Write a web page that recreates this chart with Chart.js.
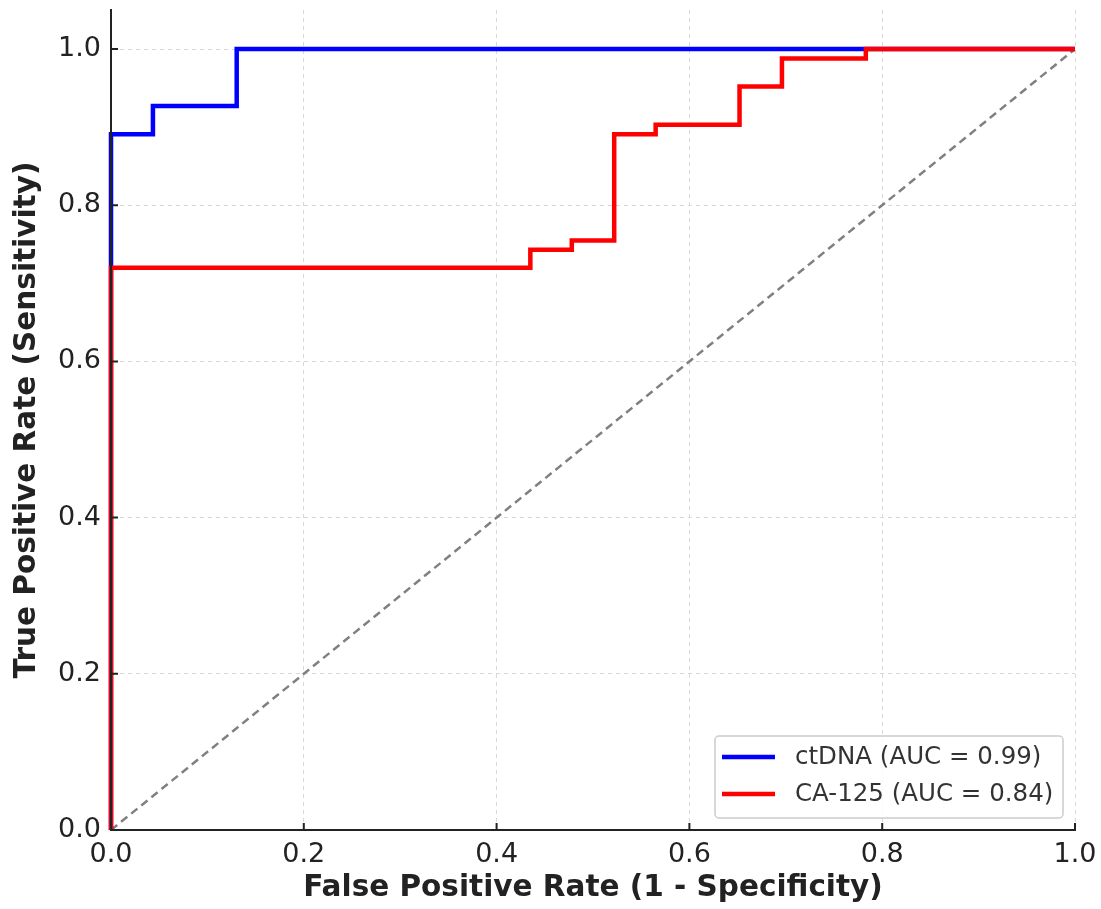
<!DOCTYPE html>
<html><head><meta charset="utf-8">
<script src="https://cdn.jsdelivr.net/npm/chart.js@4"></script>
<style>html,body{margin:0;padding:0;background:#fff}#wrap{width:1101px;height:909px}</style>
</head><body><div id="wrap"><canvas id="c" width="1101" height="909"></canvas></div>
<script>
// ---- data ----
const tickValues = [0.0, 0.2, 0.4, 0.6, 0.8, 1.0];
const ctdnaLabel = 'ctDNA (AUC = 0.99)';
const ctdnaFpr = [0, 0, 0.0435, 0.0435, 0.1304, 0.1304, 1.0];
const ctdnaTpr = [0, 0.891, 0.891, 0.927, 0.927, 1.0, 1.0];
const ca125Label = 'CA-125 (AUC = 0.84)';
const ca125Fpr = [0, 0, 0.435, 0.435, 0.478, 0.478, 0.522, 0.522, 0.565, 0.565, 0.652, 0.652, 0.696, 0.696, 0.783, 0.783, 1.0];
const ca125Tpr = [0, 0.72, 0.72, 0.743, 0.743, 0.755, 0.755, 0.891, 0.891, 0.903, 0.903, 0.952, 0.952, 0.988, 0.988, 1.0, 1.0];
const chanceFpr = [0, 1];
const chanceTpr = [0, 1];

const pts = (xs, ys) => xs.map((x, i) => ({x: x, y: ys[i]}));
const FONT = 'DejaVu Sans';

const insideTicks = {
  id: 'insideTicks',
  afterDraw(chart) {
    const ctx = chart.ctx, a = chart.chartArea;
    const xs = chart.scales.x, ys = chart.scales.y;
    ctx.save();
    ctx.strokeStyle = '#222'; ctx.lineWidth = 2;
    ctx.beginPath();
    xs.ticks.forEach(t => { const px = xs.getPixelForValue(t.value); ctx.moveTo(px, a.bottom); ctx.lineTo(px, a.bottom - 7); });
    ys.ticks.forEach(t => { const py = ys.getPixelForValue(t.value); ctx.moveTo(a.left, py); ctx.lineTo(a.left + 7, py); });
    ctx.stroke();
    ctx.restore();
  }
};

const boxLegend = {
  id: 'boxLegend',
  afterDraw(chart) {
    const ctx = chart.ctx, a = chart.chartArea;
    const items = chart.data.datasets.filter(d => d.inLegend);
    const w = 348, rowH = 37, h = 82;
    const x0 = a.right - 12 - w, y0 = a.bottom - 12 - h;
    ctx.save();
    ctx.fillStyle = 'rgba(255,255,255,0.85)';
    ctx.strokeStyle = '#cccccc'; ctx.lineWidth = 1.5;
    ctx.beginPath();
    if (ctx.roundRect) ctx.roundRect(x0, y0, w, h, 4); else ctx.rect(x0, y0, w, h);
    ctx.fill(); ctx.stroke();
    ctx.font = '24.5px "' + FONT + '"';
    ctx.textBaseline = 'middle';
    items.forEach((d, i) => {
      const cy = y0 + 21 + i * rowH;
      ctx.strokeStyle = d.borderColor; ctx.lineWidth = 4.5;
      ctx.beginPath(); ctx.moveTo(x0 + 7, cy); ctx.lineTo(x0 + 60, cy); ctx.stroke();
      ctx.fillStyle = '#333';
      ctx.fillText(d.label, x0 + 80, cy + 1);
    });
    ctx.restore();
  }
};

const axisCommon = (title, max, titlePad) => ({
  type: 'linear', min: 0, max: max,
  afterBuildTicks: s => { s.ticks = tickValues.map(v => ({value: v})); },
  grid: {color: '#d8d8d8', lineWidth: 1, drawTicks: false},
  border: {display: true, color: '#222', width: 2, dash: [4, 4], z: 1},
  ticks: {color: '#222', font: {family: FONT, size: 27}, callback: v => Number(v).toFixed(1), maxRotation: 0, autoSkip: false},
  title: {display: true, text: title, color: '#222', font: {family: FONT, size: 29.5, weight: 'bold'}, padding: titlePad}
});

const xAxis = axisCommon('False Positive Rate (1 - Specificity)', 1, {top: 4, bottom: 3});
xAxis.afterFit = s => { s.height = 79; s.paddingLeft = 0; s.paddingRight = 0; };
xAxis.ticks.padding = 9;
const yAxis = axisCommon('True Positive Rate (Sensitivity)', 1.05, {top: 10, bottom: 10});
yAxis.afterFit = s => { s.width = 111; s.paddingTop = 0; s.paddingBottom = 0; };
yAxis.ticks.padding = 10;

new Chart(document.getElementById('c'), {
  type: 'scatter',
  data: {
    datasets: [
      {label: ctdnaLabel, inLegend: true, data: pts(ctdnaFpr, ctdnaTpr), showLine: true, borderColor: '#0000ff', borderWidth: 4.5, pointRadius: 0, fill: false, order: 2, clip: false},
      {label: ca125Label, inLegend: true, data: pts(ca125Fpr, ca125Tpr), showLine: true, borderColor: '#ff0000', borderWidth: 4.5, pointRadius: 0, fill: false, order: 1, clip: false},
      {label: 'chance', inLegend: false, data: pts(chanceFpr, chanceTpr), showLine: true, borderColor: '#808080', borderWidth: 2.5, borderDash: [8, 5], pointRadius: 0, fill: false, order: 3}
    ]
  },
  options: {
    responsive: false, animation: false, devicePixelRatio: 1,
    layout: {padding: {top: 10, right: 26, left: 0, bottom: 0}},
    plugins: {legend: {display: false}, tooltip: {enabled: false}},
    scales: {x: xAxis, y: yAxis}
  },
  plugins: [insideTicks, boxLegend]
});
</script></body></html>
